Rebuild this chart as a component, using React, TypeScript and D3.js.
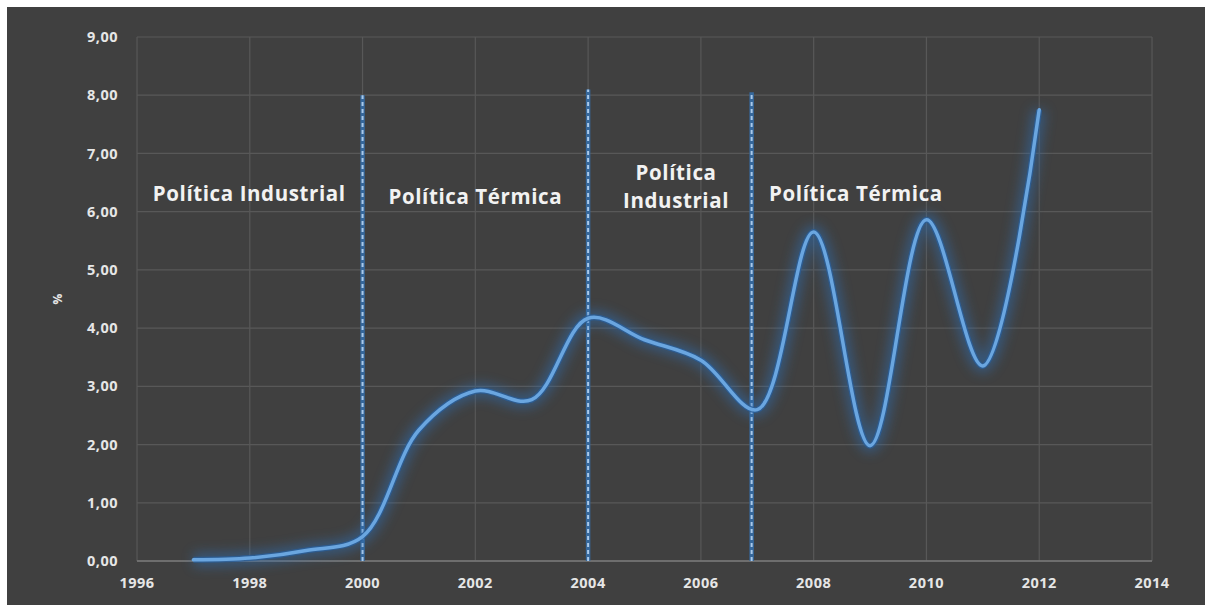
import React from "react";
import * as d3 from "d3";

const years = [1997, 1998, 1999, 2000, 2001, 2002, 2003, 2004, 2005, 2006, 2007, 2008, 2009, 2010, 2011, 2012];
const values = [0.02, 0.05, 0.18, 0.42, 2.25, 2.92, 2.77, 4.17, 3.8, 3.45, 2.6, 5.65, 1.98, 5.86, 3.35, 7.75];
const xTicks = [1996, 1998, 2000, 2002, 2004, 2006, 2008, 2010, 2012, 2014];
const yTicks = [0, 1, 2, 3, 4, 5, 6, 7, 8, 9];
const dividers = [2000, 2004, 2006.9];
const dividerTops = [8.0, 8.1, 8.05];
const labels = [
  { x: 1997.99, y: 6.3, lines: ["Política Industrial"] },
  { x: 2002.0, y: 6.25, lines: ["Política Térmica"] },
  { x: 2005.56, y: 6.3, lines: ["Política", "Industrial"] },
  { x: 2008.75, y: 6.3, lines: ["Política Térmica"] },
];

const W = 1205, H = 605;
const x = d3.scaleLinear().domain([1996, 2014]).range([137, 1152]);
const y = d3.scaleLinear().domain([0, 9]).range([561, 37]);
const fmt = (v: number) => v.toFixed(2).replace(".", ",");

export default function App() {
  const line = d3
    .line<number>()
    .x((_, i) => x(years[i]))
    .y((d) => y(d))
    .curve(d3.curveCatmullRom.alpha(0.5));
  const path = line(values) || "";
  const font = "'Open Sans', Lato, sans-serif";
  return (
    <svg width={W} height={H} style={{ position: "absolute", left: 0, top: 0, display: "block" }}>
      <defs>
        <filter id="glow" x="-20%" y="-20%" width="140%" height="140%">
          <feGaussianBlur stdDeviation="6" />
        </filter>
      </defs>
      <rect x={0} y={0} width={W} height={H} fill="#ffffff" />
      <rect x={7} y={7} width={W - 7} height={H - 7} fill="#404040" />
      {/* grid */}
      {yTicks.map((t) => (
        <line key={"gy" + t} x1={x(1996)} x2={x(2014)} y1={y(t)} y2={y(t)} stroke="#585858" strokeWidth={1.2} />
      ))}
      {xTicks.map((t) => (
        <line key={"gx" + t} x1={x(t)} x2={x(t)} y1={y(0)} y2={y(9)} stroke="#585858" strokeWidth={1.2} />
      ))}
      <line x1={x(1996)} x2={x(2014)} y1={y(0)} y2={y(0)} stroke="#7a7a7a" strokeWidth={1.5} />
      {/* y tick labels */}
      {yTicks.map((t) => (
        <text key={"ty" + t} x={118} y={y(t)} dy="0.35em" textAnchor="end" fill="#e6e6e6" fontFamily={font} fontWeight="bold" fontSize={14.5} letterSpacing={0.5}>
          {fmt(t)}
        </text>
      ))}
      {xTicks.map((t) => (
        <text key={"tx" + t} x={x(t)} y={588} textAnchor="middle" fill="#e6e6e6" fontFamily={font} fontWeight="bold" fontSize={14.5} letterSpacing={0.5}>
          {t}
        </text>
      ))}
      <text transform={`translate(62,${y(4.5)}) rotate(-90)`} textAnchor="middle" fill="#e6e6e6" fontFamily={font} fontWeight="bold" fontSize={12}>
        %
      </text>
      {/* dividers */}
      {dividers.map((d, i) => (
        <g key={"d" + d}>
          <line x1={x(d)} x2={x(d)} y1={y(0)} y2={y(dividerTops[i])} stroke="#36689c" strokeWidth={4.5} />
          <line x1={x(d)} x2={x(d)} y1={y(0)} y2={y(dividerTops[i])} stroke="#a9c9ea" strokeWidth={2} strokeDasharray="4,3" />
        </g>
      ))}
      {/* glowing line */}
      <path d={path} fill="none" stroke="#2f6fb5" strokeWidth={14} opacity={0.5} filter="url(#glow)" />
      <path d={path} fill="none" stroke="#2a5f9a" strokeWidth={6} opacity={0.8} />
      <path d={path} fill="none" stroke="#6aa6e0" strokeWidth={3.5} strokeLinecap="round" />
      {/* labels */}
      {labels.map((l, i) => (
        <text key={"l" + i} x={x(l.x)} y={y(l.y)} textAnchor="middle" fill="#f2f2f2" fontFamily={font} fontWeight="bold" fontSize={20.5} letterSpacing={0.6}>
          {l.lines.map((s, j) => (
            <tspan key={j} x={x(l.x)} dy={j === 0 ? (l.lines.length > 1 ? "-0.7em" : "0.35em") : "1.35em"}>
              {s}
            </tspan>
          ))}
        </text>
      ))}
    </svg>
  );
}
